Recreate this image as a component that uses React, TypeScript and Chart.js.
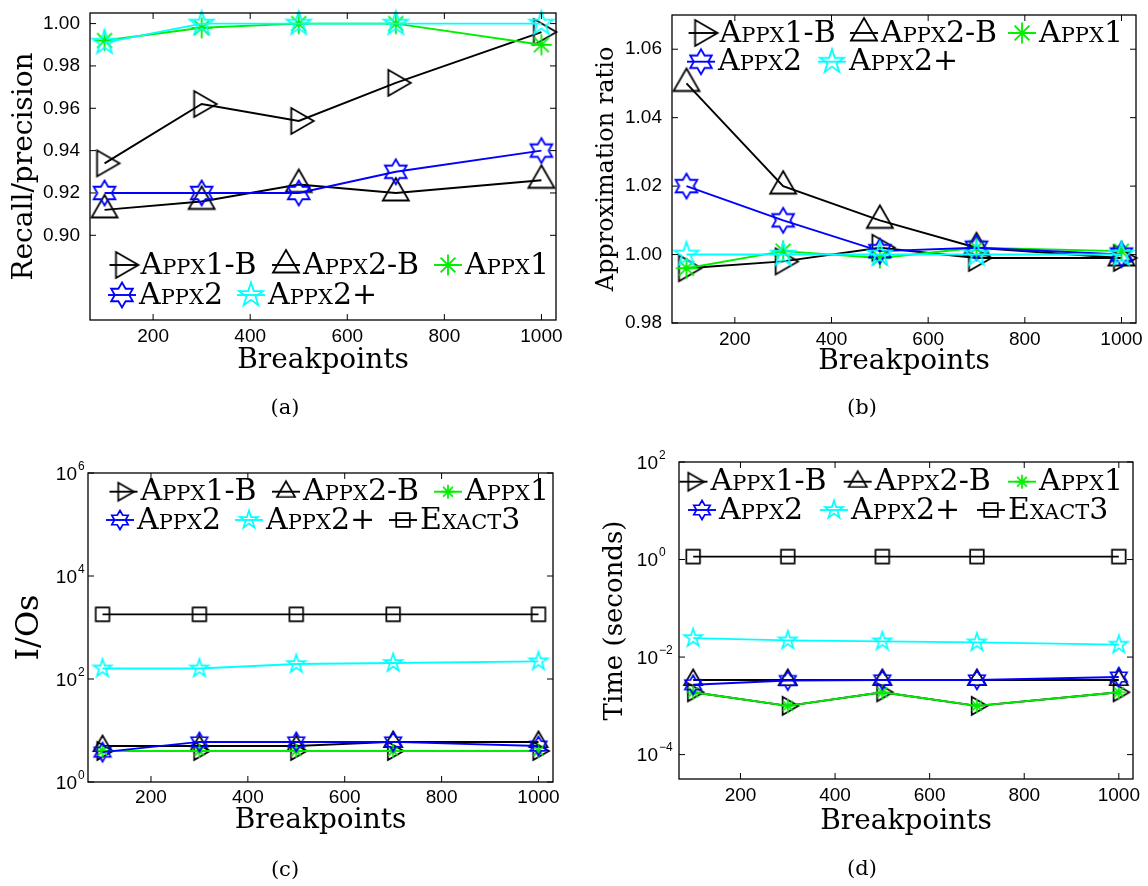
import React, { useEffect, useRef } from "react";
import { Chart, registerables } from "chart.js";

Chart.register(...registerables);

// ---------------- data ----------------
const breakpoints = [100, 300, 500, 700, 1000];
const xTickValues = [200, 400, 600, 800, 1000];
const seriesNames = ["Appx1-B", "Appx2-B", "Appx1", "Appx2", "Appx2+", "Exact3"];

// (a) Recall/precision
const recallAppx1B = [0.934, 0.962, 0.954, 0.972, 0.996];
const recallAppx2B = [0.912, 0.916, 0.924, 0.92, 0.926];
const recallAppx1 = [0.992, 0.998, 1.0, 1.0, 0.99];
const recallAppx2 = [0.92, 0.92, 0.92, 0.93, 0.94];
const recallAppx2Plus = [0.991, 1.0, 1.0, 1.0, 1.0];
const recallTicks = [0.9, 0.92, 0.94, 0.96, 0.98, 1.0];

// (b) Approximation ratio
const ratioAppx1B = [0.996, 0.998, 1.002, 0.999, 0.999];
const ratioAppx2B = [1.05, 1.02, 1.01, 1.002, 0.999];
const ratioAppx1 = [0.996, 1.001, 0.999, 1.002, 1.001];
const ratioAppx2 = [1.02, 1.01, 1.001, 1.002, 1.0];
const ratioAppx2Plus = [1.0, 1.0, 1.0, 1.0, 1.0];
const ratioTicks = [0.98, 1.0, 1.02, 1.04, 1.06];

// (c) I/Os
const ioAppx1B = [4, 4, 4, 4, 4];
const ioAppx2B = [5, 5, 5, 6, 6];
const ioAppx1 = [4, 4, 4, 4, 4];
const ioAppx2 = [3.8, 6, 6, 6, 5];
const ioAppx2Plus = [160, 160, 195, 205, 220];
const ioExact3 = [1800, 1800, 1800, 1800, 1800];
const ioTickExponents = [0, 2, 4, 6];

// (d) Time (seconds)
const timeAppx1B = [0.0019, 0.001, 0.0019, 0.001, 0.0019];
const timeAppx2B = [0.0034, 0.0034, 0.0034, 0.0034, 0.0034];
const timeAppx1 = [0.0019, 0.001, 0.0019, 0.001, 0.0019];
const timeAppx2 = [0.0027, 0.0033, 0.0034, 0.0034, 0.0039];
const timeAppx2Plus = [0.0245, 0.022, 0.021, 0.02, 0.018];
const timeExact3 = [1.15, 1.15, 1.15, 1.15, 1.15];
const timeTickExponents = [-4, -2, 0, 2];

// ---------------- styles ----------------
type MarkerKind = "triRight" | "triUp" | "asterisk" | "hexagram" | "pentagram" | "square";
const SERIES_STYLE: { color: string; marker: MarkerKind }[] = [
  { color: "#000000", marker: "triRight" },
  { color: "#000000", marker: "triUp" },
  { color: "#00ee00", marker: "asterisk" },
  { color: "#0000ff", marker: "hexagram" },
  { color: "#00ffff", marker: "pentagram" },
  { color: "#000000", marker: "square" },
];
const BIG_SIZES: Record<MarkerKind, number> = { triRight: 15, triUp: 15, asterisk: 10.5, hexagram: 12.5, pentagram: 12.5, square: 7 };
const SMALL_SIZES: Record<MarkerKind, number> = { triRight: 10.5, triUp: 10.5, asterisk: 7, hexagram: 9.5, pentagram: 9.5, square: 6.8 };

const SANS = "'Liberation Sans', Arial, sans-serif";
const SERIF = "'DejaVu Serif', serif";

function makeMarker(kind: MarkerKind, r: number, color: string, lw: number): HTMLCanvasElement {
  let size = Math.ceil(2 * r + 2 * lw + 6);
  if (size % 2 === 1) size += 1;
  const c = document.createElement("canvas");
  c.width = size;
  c.height = size;
  const g = c.getContext("2d")!;
  g.translate(size / 2, size / 2);
  g.strokeStyle = color;
  g.lineWidth = lw;
  g.lineJoin = "miter";
  g.beginPath();
  const star = (n: number, outer: number, inner: number, startDeg: number) => {
    for (let k = 0; k < 2 * n; k++) {
      const a = ((startDeg + (k * 180) / n) * Math.PI) / 180;
      const rr = k % 2 === 0 ? outer : inner;
      if (k === 0) g.moveTo(rr * Math.cos(a), rr * Math.sin(a));
      else g.lineTo(rr * Math.cos(a), rr * Math.sin(a));
    }
    g.closePath();
  };
  const tri = (startDeg: number) => {
    for (let k = 0; k < 3; k++) {
      const a = ((startDeg + k * 120) * Math.PI) / 180;
      if (k === 0) g.moveTo(r * Math.cos(a), r * Math.sin(a));
      else g.lineTo(r * Math.cos(a), r * Math.sin(a));
    }
    g.closePath();
  };
  switch (kind) {
    case "triUp":
      tri(-90);
      break;
    case "triRight":
      tri(0);
      break;
    case "square":
      g.rect(-r, -r, 2 * r, 2 * r);
      break;
    case "asterisk":
      for (const d of [0, 45, 90, 135]) {
        const a = (d * Math.PI) / 180;
        g.moveTo(r * Math.cos(a), r * Math.sin(a));
        g.lineTo(-r * Math.cos(a), -r * Math.sin(a));
      }
      break;
    case "hexagram":
      star(6, r, r / Math.sqrt(3), -90);
      break;
    case "pentagram":
      star(5, r, r * 0.382, -90);
      break;
  }
  g.stroke();
  return c;
}

// ---------------- panels ----------------
type LegendRow = { y: number; items: [number, number][] };
type PanelSpec = {
  id: string;
  left: number;
  top: number;
  w: number;
  h: number;
  plot: { l: number; t: number; r: number; b: number };
  yType: "linear" | "logarithmic";
  yMin: number;
  yMax: number;
  yTicks: number[];
  logExps?: number[];
  logGap?: number;
  yTitle: string;
  yTitleSize: number;
  yTitleCenter: number;
  xTitleMid: number;
  xTickPad: number;
  big: boolean;
  series: number[][];
  legend: LegendRow[];
  caption: string;
  capX: number;
  capY: number;
};

const PANELS: PanelSpec[] = [
  {
    id: "a", left: 0, top: 0, w: 574, h: 430,
    plot: { l: 90, t: 13, r: 556, b: 320 },
    yType: "linear", yMin: 0.86, yMax: 1.005, yTicks: recallTicks,
    yTitle: "Recall/precision", yTitleSize: 28, yTitleCenter: 25, xTitleMid: 361, xTickPad: 5, big: true,
    series: [recallAppx1B, recallAppx2B, recallAppx1, recallAppx2, recallAppx2Plus],
    legend: [
      { y: 265, items: [[0, 109.5], [1, 272], [2, 434]] },
      { y: 295, items: [[3, 108], [4, 237]] },
    ],
    caption: "(a)", capX: 285, capY: 409,
  },
  {
    id: "b", left: 574, top: 0, w: 574, h: 430,
    plot: { l: 98, t: 15, r: 562, b: 323 },
    yType: "linear", yMin: 0.98, yMax: 1.07, yTicks: ratioTicks,
    yTitle: "Approximation ratio", yTitleSize: 24, yTitleCenter: 33, xTitleMid: 362, xTickPad: 5, big: true,
    series: [ratioAppx1B, ratioAppx2B, ratioAppx1, ratioAppx2, ratioAppx2Plus],
    legend: [
      { y: 33, items: [[0, 114.6], [1, 276], [2, 434]] },
      { y: 61.7, items: [[3, 113], [4, 244]] },
    ],
    caption: "(b)", capX: 288, capY: 409,
  },
  {
    id: "c", left: 0, top: 430, w: 574, h: 456,
    plot: { l: 88, t: 43, r: 553, b: 352 },
    yType: "logarithmic", yMin: 1, yMax: 1e6, yTicks: ioTickExponents.map((e) => Math.pow(10, e)),
    logExps: ioTickExponents, logGap: 11,
    yTitle: "I/Os", yTitleSize: 32, yTitleCenter: 30, xTitleMid: 391, xTickPad: 4, big: false,
    series: [ioAppx1B, ioAppx2B, ioAppx1, ioAppx2, ioAppx2Plus, ioExact3],
    legend: [
      { y: 61.7, items: [[0, 109.5], [1, 272], [2, 434]] },
      { y: 90, items: [[3, 106], [4, 235], [5, 389]] },
    ],
    caption: "(c)", capX: 285, capY: 441,
  },
  {
    id: "d", left: 574, top: 430, w: 574, h: 456,
    plot: { l: 105, t: 32, r: 559, b: 349 },
    yType: "logarithmic", yMin: Math.pow(10, -4.5), yMax: 100, yTicks: timeTickExponents.map((e) => Math.pow(10, e)),
    logExps: timeTickExponents, logGap: 21,
    yTitle: "Time (seconds)", yTitleSize: 26, yTitleCenter: 41, xTitleMid: 392, xTickPad: 5, big: false,
    series: [timeAppx1B, timeAppx2B, timeAppx1, timeAppx2, timeAppx2Plus, timeExact3],
    legend: [
      { y: 51.7, items: [[0, 105.5], [1, 269.7], [2, 434]] },
      { y: 80, items: [[3, 114], [4, 246], [5, 403]] },
    ],
    caption: "(d)", capX: 288, capY: 440,
  },
];

function buildConfig(spec: PanelSpec): any {
  const sizes = spec.big ? BIG_SIZES : SMALL_SIZES;
  const mlw = spec.big ? 1.8 : 1.7;
  const markers = SERIES_STYLE.map((s) => makeMarker(s.marker, sizes[s.marker], s.color, mlw));
  const n = spec.series.length;
  const datasets = spec.series.map((vals, i) => ({
    label: seriesNames[i],
    data: breakpoints.map((x, j) => ({ x, y: vals[j] })),
    borderColor: SERIES_STYLE[i].color,
    backgroundColor: SERIES_STYLE[i].color,
    borderWidth: 1.9,
    pointStyle: markers[i],
    pointRadius: 6,
    pointHoverRadius: 6,
    tension: 0,
    fill: false,
    clip: false,
    order: n - i,
  }));

  const ticksFont = { family: SANS, size: 19 };
  const yTitlePad = spec.yTitleCenter - (spec.yTitleSize * 1.2) / 2;
  const xTitlePad = spec.h - spec.xTitleMid - (28 * 1.2) / 2;

  const decor = {
    id: "decor" + spec.id,
    afterDraw(chart: any) {
      const ctx: CanvasRenderingContext2D = chart.ctx;
      const ca = chart.chartArea;
      const xs = chart.scales.x;
      const ys = chart.scales.y;
      ctx.save();
      // axes box
      ctx.strokeStyle = "#000";
      ctx.lineWidth = 1.3;
      ctx.strokeRect(ca.left, ca.top, ca.right - ca.left, ca.bottom - ca.top);
      // inward ticks
      const TL = 6;
      ctx.lineWidth = 1;
      ctx.beginPath();
      for (const v of xTickValues) {
        const px = xs.getPixelForValue(v);
        ctx.moveTo(px, ca.bottom);
        ctx.lineTo(px, ca.bottom - TL);
        ctx.moveTo(px, ca.top);
        ctx.lineTo(px, ca.top + TL);
      }
      for (const v of spec.yTicks) {
        const py = ys.getPixelForValue(v);
        ctx.moveTo(ca.left, py);
        ctx.lineTo(ca.left + TL, py);
        ctx.moveTo(ca.right, py);
        ctx.lineTo(ca.right - TL, py);
      }
      ctx.stroke();
      // log tick labels 10^k
      if (spec.logExps) {
        ctx.fillStyle = "#000";
        ctx.textBaseline = "middle";
        for (const e of spec.logExps) {
          const py = ys.getPixelForValue(Math.pow(10, e));
          const xr = ca.left - (spec.logGap || 0);
          ctx.font = `19px ${SANS}`;
          ctx.textAlign = "right";
          ctx.fillText("10", xr, py + 1.5);
          ctx.font = `12px ${SANS}`;
          ctx.textAlign = "left";
          ctx.fillText(e < 0 ? "\u2212" + String(-e) : String(e), xr + 1, py - 6.5);
        }
      }
      // legend
      for (const row of spec.legend) {
        for (const [si, x0] of row.items) {
          const st = SERIES_STYLE[si];
          ctx.strokeStyle = st.color;
          ctx.lineWidth = 1.9;
          ctx.beginPath();
          ctx.moveTo(x0, row.y);
          ctx.lineTo(x0 + 28, row.y);
          ctx.stroke();
          const m = markers[si];
          ctx.drawImage(m, x0 + 14 - m.width / 2, row.y - m.height / 2);
          ctx.font = `small-caps 30px ${SERIF}`;
          try {
            (ctx as any).fontVariantCaps = "small-caps";
          } catch (err) {}
          ctx.fillStyle = "#000";
          ctx.textAlign = "left";
          ctx.textBaseline = "middle";
          ctx.fillText(seriesNames[si], x0 + 31, row.y + 1);
          try {
            (ctx as any).fontVariantCaps = "normal";
          } catch (err) {}
        }
      }
      // caption
      ctx.font = `21px ${SERIF}`;
      ctx.fillStyle = "#000";
      ctx.textAlign = "center";
      ctx.textBaseline = "middle";
      ctx.fillText(spec.caption, spec.capX, spec.capY);
      ctx.restore();
    },
  };

  const yScale: any = {
    type: spec.yType,
    min: spec.yMin,
    max: spec.yMax,
    afterBuildTicks: (s: any) => {
      s.ticks = spec.yTicks.map((v) => ({ value: v }));
    },
    afterFit: (s: any) => {
      s.width = spec.plot.l;
      s.paddingTop = 0;
      s.paddingBottom = 0;
    },
    grid: { display: false, drawTicks: false },
    border: { display: false },
    ticks: {
      display: spec.yType === "linear",
      font: ticksFont,
      color: "#000",
      padding: 10,
      autoSkip: false,
      callback: (v: any) => Number(v).toFixed(2),
    },
    title: {
      display: true,
      text: spec.yTitle,
      color: "#000",
      font: { family: SERIF, size: spec.yTitleSize },
      padding: { top: yTitlePad, bottom: 0 },
    },
  };

  return {
    type: "line",
    data: { datasets },
    options: {
      responsive: false,
      maintainAspectRatio: false,
      animation: false,
      events: [],
      layout: { padding: { left: 0, top: spec.plot.t, right: spec.w - spec.plot.r, bottom: 0 } },
      plugins: { legend: { display: false }, tooltip: { enabled: false } },
      scales: {
        x: {
          type: "linear",
          min: 70,
          max: 1030,
          afterBuildTicks: (s: any) => {
            s.ticks = xTickValues.map((v) => ({ value: v }));
          },
          afterFit: (s: any) => {
            s.height = spec.h - spec.plot.b;
            s.paddingLeft = 0;
            s.paddingRight = 0;
          },
          grid: { display: false, drawTicks: false },
          border: { display: false },
          ticks: {
            font: ticksFont,
            color: "#000",
            padding: spec.xTickPad,
            autoSkip: false,
            maxRotation: 0,
            minRotation: 0,
            callback: (v: any) => String(v),
          },
          title: {
            display: true,
            text: "Breakpoints",
            color: "#000",
            font: { family: SERIF, size: 28 },
            padding: { top: 0, bottom: xTitlePad },
          },
        },
        y: yScale,
      },
    },
    plugins: [decor],
  };
}

function Panel({ spec }: { spec: PanelSpec }) {
  const ref = useRef<HTMLCanvasElement>(null);
  useEffect(() => {
    if (!ref.current) return;
    const chart = new Chart(ref.current, buildConfig(spec));
    return () => chart.destroy();
  }, [spec]);
  return (
    <canvas
      ref={ref}
      width={spec.w}
      height={spec.h}
      style={{ position: "absolute", left: spec.left, top: spec.top, width: spec.w, height: spec.h }}
    />
  );
}

export default function App() {
  return (
    <div style={{ position: "absolute", left: 0, top: 0, width: 1148, height: 886, background: "#fff", overflow: "hidden" }}>
      {PANELS.map((p) => (
        <Panel key={p.id} spec={p} />
      ))}
    </div>
  );
}
